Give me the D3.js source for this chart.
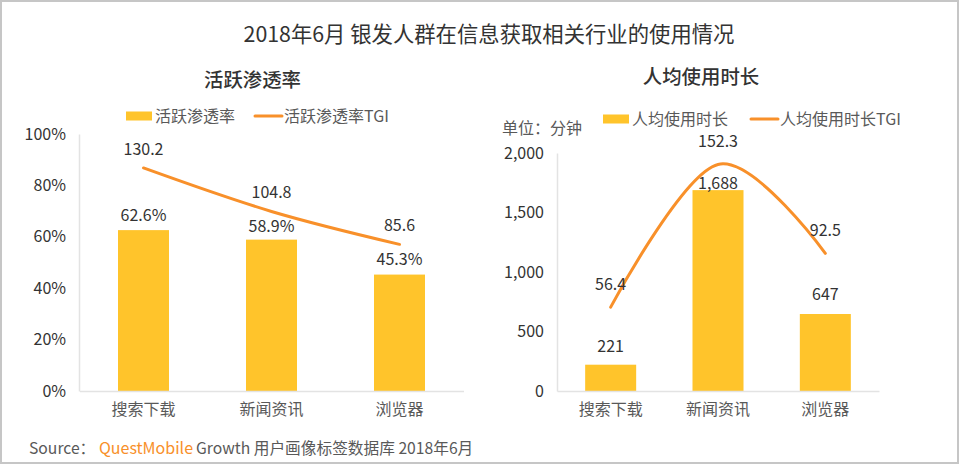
<!DOCTYPE html>
<html>
<head>
<meta charset="utf-8">
<script src="https://cdn.jsdelivr.net/npm/d3@7/dist/d3.min.js"></script>
<style>
  html, body { margin: 0; padding: 0; background: #fff; }
  svg { display: block; }
  text { font-family: "Noto Sans CJK SC", "Noto Sans", sans-serif; }
</style>
</head>
<body>
<svg id="chart" width="960" height="464"></svg>
<script>
var categories = ["搜索下载", "新闻资讯", "浏览器"];

var rateValues = [62.6, 58.9, 45.3];
var rateTgi = [130.2, 104.8, 85.6];
var rateTicks = [0, 20, 40, 60, 80, 100];

var durationValues = [221, 1688, 647];
var durationTgi = [56.4, 152.3, 92.5];
var durationTicks = [0, 500, 1000, 1500, 2000];

var barColor = "#ffc42b";
var lineColor = "#f8902a";
var axisColor = "#e3e3e3";
var textColor = "#333333";
var softText = "#595959";

var svg = d3.select("#chart");

// outer frame
svg.append("rect")
  .attr("x", 1).attr("y", 1)
  .attr("width", 957).attr("height", 462)
  .attr("fill", "#fff")
  .attr("stroke", "#c6c6c6")
  .attr("stroke-width", 2);

svg.append("text")
  .attr("x", 489).attr("y", 42)
  .attr("text-anchor", "middle")
  .attr("font-size", 21.35)
  .attr("fill", textColor)
  .text("2018年6月 银发人群在信息获取相关行业的使用情况");

var drawPanel = function drawPanel(opts) {
  var g = svg.append("g");

  var x = d3.scaleBand().domain(categories).range(opts.xRange);
  var y = d3.scaleLinear().domain(opts.domain).range([391, opts.yTop]);
  var yTgi = d3.scaleLinear().domain(opts.tgiDomain).range([391, opts.yTop]);
  var cx = function(i) { return x(categories[i]) + x.bandwidth() / 2; };

  var yAxis = d3.axisLeft(y)
    .tickValues(opts.ticks)
    .tickSize(0)
    .tickPadding(13)
    .tickFormat(opts.tickFormat);
  var yG = g.append("g")
    .attr("transform", "translate(" + Math.floor(opts.xRange[0]) + ",0)")
    .call(yAxis);
  yG.select(".domain").attr("stroke", axisColor).attr("stroke-width", 1.5);
  yG.selectAll("text")
    .attr("font-size", 16)
    .attr("fill", textColor)
    .style("font-family", '"Noto Sans CJK SC", "Noto Sans", sans-serif');

  g.selectAll("rect.bar")
    .data(opts.values)
    .enter()
    .append("rect")
    .attr("class", "bar")
    .attr("x", function(d, i) { return cx(i) - opts.barWidth / 2; })
    .attr("y", function(d) { return y(d); })
    .attr("width", opts.barWidth)
    .attr("height", function(d) { return y(0) - y(d); })
    .attr("fill", barColor);

  var xAxis = d3.axisBottom(x).tickSize(0).tickPadding(13);
  var xG = g.append("g")
    .attr("transform", "translate(0,391)")
    .call(xAxis);
  xG.select(".domain").attr("stroke", axisColor).attr("stroke-width", 1.5);
  xG.selectAll("text")
    .attr("font-size", 16)
    .attr("fill", softText)
    .style("font-family", '"Noto Sans CJK SC", "Noto Sans", sans-serif');

  var line = d3.line()
    .x(function(d, i) { return cx(i); })
    .y(function(d) { return yTgi(d); })
    .curve(d3.curveCardinal.tension(opts.tension));
  g.append("path")
    .datum(opts.tgi)
    .attr("d", line)
    .attr("fill", "none")
    .attr("stroke", lineColor)
    .attr("stroke-width", 3)
    .attr("stroke-linecap", "round");

  g.selectAll("text.barLabel")
    .data(opts.values)
    .enter()
    .append("text")
    .attr("class", "barLabel")
    .attr("x", function(d, i) { return cx(i); })
    .attr("y", function(d, i) { return y(d) - opts.barGap[i]; })
    .attr("text-anchor", "middle")
    .attr("font-size", 16)
    .attr("fill", textColor)
    .text(opts.barFormat);

  g.selectAll("text.tgiLabel")
    .data(opts.tgi)
    .enter()
    .append("text")
    .attr("class", "tgiLabel")
    .attr("x", function(d, i) { return cx(i); })
    .attr("y", function(d) { return yTgi(d) - opts.tgiGap; })
    .attr("text-anchor", "middle")
    .attr("font-size", 16)
    .attr("fill", textColor)
    .text(function(d) { return d3.format(".1f")(d); });

  // heading
  g.append("text")
    .attr("x", opts.headX).attr("y", opts.headY)
    .attr("text-anchor", "middle")
    .attr("font-size", 19.4)
    .attr("font-weight", 500)
    .attr("fill", textColor)
    .text(opts.name);

  // legend
  var lg = opts.legend;
  g.append("rect")
    .attr("x", lg.rectX).attr("y", lg.y - 4.5)
    .attr("width", 26).attr("height", 9)
    .attr("fill", barColor);
  g.append("text")
    .attr("x", lg.rectX + 29).attr("y", lg.y + 5.5)
    .attr("font-size", 16)
    .attr("fill", softText)
    .text(opts.name);
  g.append("line")
    .attr("x1", lg.lineX).attr("x2", lg.lineX + 27)
    .attr("y1", lg.y).attr("y2", lg.y)
    .attr("stroke", lineColor)
    .attr("stroke-width", 3)
    .attr("stroke-linecap", "round");
  g.append("text")
    .attr("x", lg.lineX + 29).attr("y", lg.y + 5.5)
    .attr("font-size", 16)
    .attr("fill", softText)
    .text(opts.name + "TGI");
};

drawPanel({
  name: "活跃渗透率",
  xRange: [79.5, 463.5],
  yTop: 134,
  domain: [0, 100],
  tgiDomain: [0, 150],
  ticks: rateTicks,
  tickFormat: function(d) { return d + "%"; },
  values: rateValues,
  tgi: rateTgi,
  barWidth: 51,
  barGap: [9, 8, 10],
  tgiGap: 13,
  tension: 0,
  barFormat: function(d) { return d3.format(".1f")(d) + "%"; },
  headX: 252.5,
  headY: 87,
  legend: { rectX: 126, lineX: 255, y: 116 }
});

drawPanel({
  name: "人均使用时长",
  xRange: [557, 879],
  yTop: 153,
  domain: [0, 2000],
  tgiDomain: [0, 160],
  ticks: durationTicks,
  tickFormat: d3.format(","),
  values: durationValues,
  tgi: durationTgi,
  barWidth: 51,
  barGap: [13, 1, 14],
  tgiGap: 17,
  tension: 0,
  barFormat: d3.format(","),
  headX: 701,
  headY: 84,
  legend: { rectX: 603, lineX: 751, y: 119 }
});

svg.append("text")
  .attr("x", 502).attr("y", 134)
  .attr("font-size", 16)
  .attr("fill", softText)
  .text("单位：分钟");

// source line
var sourceY = 454;
svg.append("text")
  .attr("x", 29).attr("y", sourceY)
  .attr("font-size", 15.7)
  .attr("fill", softText)
  .text("Source：");
svg.append("text")
  .attr("x", 99).attr("y", sourceY)
  .attr("font-size", 16)
  .attr("fill", lineColor)
  .text("QuestMobile");
svg.append("text")
  .attr("x", 196).attr("y", sourceY)
  .attr("font-size", 15.7)
  .attr("fill", softText)
  .text("Growth 用户画像标签数据库 2018年6月");
</script>
</body>
</html>
